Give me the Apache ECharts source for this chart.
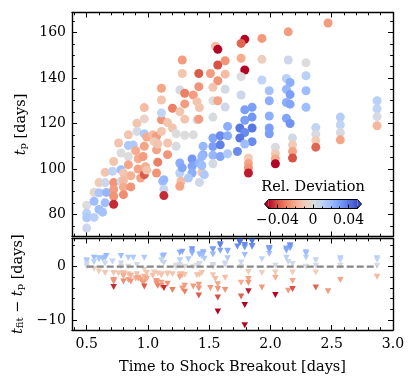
<!DOCTYPE html>
<html>
<head>
<meta charset="utf-8">
<script src="https://cdn.jsdelivr.net/npm/echarts@6/dist/echarts.min.js"></script>
<style>
  html, body { margin: 0; padding: 0; background: #fff; }
  #chart { width: 416px; height: 387px; }
</style>
</head>
<body>
<div id="chart"></div>
<script>
// time to shock breakout [days]
const breakout = [
  0.50, 0.50, 0.50, 0.50, 0.56, 0.56, 0.56, 0.60, 0.60, 0.60,
  0.63, 0.65, 0.65, 0.66, 0.65, 0.72, 0.71, 0.72, 0.72, 0.72,
  0.72, 0.76, 0.78, 0.78, 0.78, 0.80, 0.80, 0.80, 0.80, 0.84,
  0.84, 0.84, 0.84, 0.86, 0.86, 0.88, 0.91, 0.91, 0.90, 0.92,
  0.92, 0.94, 0.97, 0.97, 0.97, 0.99, 0.97, 0.96, 0.98, 0.97,
  0.99, 1.04, 1.07, 1.07, 1.08, 1.07, 1.05, 1.11, 1.11, 1.11,
  1.11, 1.08, 1.12, 1.13, 1.13, 1.13, 1.16, 1.16, 1.16, 1.20,
  1.20, 1.23, 1.23, 1.26, 1.26, 1.28, 1.28, 1.30, 1.30, 1.30,
  1.30, 1.26, 1.26, 1.27, 1.26, 1.28, 1.36, 1.36, 1.36, 1.33,
  1.42, 1.42, 1.45, 1.45, 1.44, 1.37, 1.40, 1.40, 1.37, 1.415,
  1.415, 1.415, 1.42, 1.51, 1.55, 1.57, 1.57, 1.63, 1.57, 1.53,
  1.63, 1.63, 1.53, 1.57, 1.63, 1.53, 1.53, 1.53, 1.53, 1.53,
  1.59, 1.59, 1.59, 1.65, 1.65, 1.65, 1.44, 1.44, 1.46, 1.79,
  1.76, 1.76, 1.79, 1.76, 1.76, 1.79, 1.85, 1.79, 1.85, 1.75,
  1.85, 1.79, 1.75, 1.85, 1.79, 1.73, 1.82, 1.82, 1.82, 1.82,
  1.93, 1.93, 1.93, 1.99, 1.99, 1.99, 1.99, 1.99, 2.04, 2.04,
  2.04, 2.04, 2.145, 2.145, 2.13, 2.16, 2.13, 2.16, 2.13, 2.16,
  2.13, 2.16, 2.18, 2.18, 2.18, 2.18, 2.29, 2.29, 2.29, 2.29,
  2.37, 2.37, 2.37, 2.37, 2.47, 2.57, 2.57, 2.57, 2.57, 2.87,
  2.87, 2.87, 2.87, 1.11
];

// peak time t_p [days]
const tPeak = [
  84.0, 80.5, 78.5, 74.0, 89.7, 85.8, 78.7, 82.2, 94.0, 89.5,
  81.0, 98.5, 94.0, 89.7, 85.1, 103.3, 99.0, 94.0, 91.0, 88.0,
  84.5, 111.4, 107.0, 99.7, 94.6, 98.2, 95.0, 92.0, 88.7, 115.0,
  110.3, 105.5, 101.9, 97.0, 92.1, 110.5, 120.1, 116.5, 108.0, 104.5,
  100.0, 96.0, 127.0, 122.0, 115.5, 114.0, 110.0, 105.5, 101.0, 97.5,
  99.5, 115.0, 114.3, 108.4, 103.0, 98.2, 112.0, 135.5, 130.3, 121.6,
  116.5, 111.0, 94.6, 95.3, 91.0, 88.3, 120.4, 111.4, 106.3, 126.7,
  118.0, 115.5, 110.0, 125.2, 134.7, 147.9, 142.0, 133.3, 128.6, 121.9,
  114.8, 102.6, 98.2, 94.6, 92.4, 100.5, 104.4, 101.2, 98.2, 96.0,
  94.1, 102.6, 110.0, 106.3, 98.5, 132.5, 129.6, 121.6, 115.0, 142.0,
  136.2, 121.9, 127.0, 142.0, 154.0, 152.6, 145.7, 147.6, 138.8, 135.9,
  141.7, 135.0, 130.0, 130.0, 127.2, 122.8, 113.6, 109.9, 106.0, 102.3,
  114.6, 110.6, 105.5, 118.7, 114.6, 106.7, 105.5, 101.5, 97.5, 157.0,
  155.2, 148.7, 143.5, 140.6, 132.5, 126.0, 127.1, 121.4, 122.8, 118.0,
  118.0, 116.0, 113.6, 112.0, 111.0, 107.7, 104.8, 102.4, 100.4, 98.2,
  157.4, 148.2, 139.1, 134.4, 130.0, 123.3, 118.0, 115.5, 109.6, 106.8,
  104.5, 102.3, 160.3, 147.9, 139.8, 138.0, 135.0, 132.7, 129.2, 128.5,
  122.3, 120.0, 113.6, 110.6, 107.7, 104.8, 146.7, 141.0, 134.4, 127.1,
  118.2, 115.3, 112.4, 109.6, 164.2, 122.8, 119.4, 116.0, 112.8, 130.0,
  126.5, 123.0, 119.0, 124.6
];

// relative deviation (colour)
const relDev = [
  0.000, 0.012, 0.015, 0.006, -0.004, 0.020, 0.012, 0.020, -0.010, 0.016,
  0.018, -0.012, 0.006, 0.022, 0.020, -0.012, 0.010, -0.026, -0.024, -0.026,
  -0.045, -0.012, 0.000, 0.020, 0.006, -0.012, -0.015, -0.020, -0.028, -0.012,
  0.015, 0.000, -0.022, -0.018, -0.026, 0.015, -0.012, 0.003, -0.020, -0.020,
  -0.022, -0.022, -0.015, -0.005, 0.015, -0.020, -0.022, -0.024, -0.020, -0.038,
  -0.012, -0.015, -0.024, -0.022, -0.031, -0.026, -0.010, -0.022, -0.012, -0.026,
  -0.012, -0.012, 0.020, 0.022, 0.008, -0.045, -0.012, -0.012, -0.026, -0.031,
  -0.012, 0.000, 0.002, -0.012, 0.002, -0.024, -0.012, -0.031, -0.024, -0.012,
  0.000, 0.025, 0.012, -0.015, -0.022, 0.028, 0.032, 0.028, 0.025, 0.015,
  0.005, 0.022, 0.022, 0.025, -0.012, -0.024, -0.012, 0.002, 0.000, -0.038,
  -0.026, -0.024, -0.012, -0.024, -0.015, -0.055, -0.040, -0.026, -0.026, -0.012,
  -0.015, 0.003, 0.000, -0.022, 0.005, 0.002, 0.028, 0.030, 0.022, 0.003,
  0.035, 0.038, 0.028, 0.025, 0.025, 0.015, 0.022, 0.020, 0.015, -0.070,
  -0.036, -0.020, -0.050, 0.000, 0.006, 0.030, 0.030, 0.030, 0.032, 0.040,
  0.040, 0.035, 0.040, 0.035, 0.020, 0.035, -0.010, -0.022, -0.026, -0.047,
  -0.025, -0.008, 0.010, 0.018, 0.025, 0.025, 0.030, 0.030, 0.002, -0.010,
  -0.020, -0.052, -0.024, 0.006, 0.012, 0.025, 0.022, 0.030, 0.025, 0.028,
  0.028, 0.033, 0.004, -0.010, -0.022, -0.040, 0.000, 0.012, 0.020, 0.020,
  0.010, 0.002, -0.010, -0.036, -0.024, 0.013, 0.010, 0.002, -0.022, 0.012,
  0.010, 0.002, -0.016, 0.010
];

// t_fit - t_p [days]
const residual = [
  0.0, 1.0, 1.2, 0.4, -0.4, 1.7, 0.9, 1.6, -0.9, 1.4,
  1.5, -1.2, 0.6, 2.0, 1.7, -1.2, 1.0, -2.8, -2.5, -2.6,
  -3.8, -1.3, 0.0, 2.0, 0.6, -1.2, -1.4, -1.8, -2.8, -1.4,
  1.7, 0.0, -2.5, -1.7, -2.8, 1.7, -1.4, 0.3, -2.2, -2.1,
  -2.2, -2.4, -1.9, -0.6, 1.7, -2.3, -2.8, -3.0, -2.0, -3.7,
  -1.2, -1.7, -3.2, -2.7, -3.6, -2.9, -1.1, -3.0, -1.6, -3.6,
  -1.4, -1.3, 1.9, 2.1, 0.7, -4.0, -1.4, -1.3, -3.2, -4.4,
  -1.4, 0.0, 0.2, -1.5, 0.3, -4.1, -1.7, -4.7, -3.6, -1.5,
  0.0, 2.6, 1.2, -1.4, -2.0, 2.8, 3.3, 2.8, 2.5, 1.4,
  0.5, 2.3, 2.4, 2.7, -1.2, -3.7, -1.6, 0.2, 0.0, -5.4,
  -4.1, -3.4, -1.5, -4.0, -2.3, -8.4, -5.8, -4.4, -4.2, -1.6,
  -2.1, 0.4, 0.0, -3.3, 0.6, 0.2, 3.2, 3.3, 2.3, 0.3,
  4.0, 4.2, 3.0, 3.0, 2.9, 1.6, 2.3, 2.0, 1.5, -11.0,
  -5.6, -3.0, -7.2, 0.0, 0.8, 3.8, 3.8, 3.6, 3.9, 4.7,
  4.7, 4.1, 4.5, 3.9, 2.2, 3.8, -1.0, -2.3, -3.0, -4.6,
  -3.9, -1.2, 1.4, 2.4, 3.3, 3.1, 3.5, 3.5, 0.2, -1.1,
  -2.1, -5.3, -4.5, 0.9, 1.7, 3.5, 3.0, 4.0, 3.2, 3.6,
  3.4, 4.0, 0.5, -1.1, -2.7, -4.2, 0.0, 1.7, 2.7, 2.5,
  1.2, 0.2, -1.1, -3.9, -4.6, 1.6, 1.2, 0.2, -2.5, 1.6,
  1.3, 0.2, -1.9, 1.2
];

const xTicks = [0.5, 1.0, 1.5, 2.0, 2.5, 3.0];
const tpTicks = [80, 100, 120, 140, 160];
const resTicks = [-10, 0];
const cbTicks = [-0.04, 0, 0.04];
const devRange = [-0.05, 0.05];

// coolwarm, reversed (red = negative)
const coolwarmR = ['#b40426', '#d65244', '#ee8468', '#f7ac8e', '#f2cbb7', '#dddcdc',
                   '#c0d4f5', '#9ebeff', '#7b9ff9', '#5977e3', '#3b4cc0'];

const FONT = 'DejaVu Serif';
const INK = '#000';

function minorTicks(from, to, step, major) {
  const out = [];
  for (let v = from; v <= to + 1e-9; v += step) {
    const r = Math.round(v * 1000) / 1000;
    if (!major.some(m => Math.abs(m - r) < 1e-9)) out.push(r);
  }
  return out;
}
const xMinor = minorTicks(0.4, 2.9, 0.1, xTicks);
const tpMinor = minorTicks(75, 165, 5, tpTicks);
const resMinor = minorTicks(-10, 4, 2, resTicks);
const cbMinor = minorTicks(-0.05, 0.05, 0.01, cbTicks);

const minus = v => (v < 0 ? '\u2212' : '') + Math.abs(v);

const rich = {
  i: { fontFamily: FONT, fontStyle: 'italic', fontSize: 14.5, color: INK, lineHeight: 18, verticalAlign: 'bottom' },
  s: { fontFamily: FONT, fontSize: 10, color: INK, lineHeight: 9, verticalAlign: 'bottom' },
  r: { fontFamily: FONT, fontSize: 14.5, color: INK, lineHeight: 18, verticalAlign: 'bottom' }
};

const P = { left: 72, width: 321 };
const top1 = 12.5, h1 = 224;
const top2 = 238.5, h2 = 91.5;
const cb = { left: 268.5, top: 199.5, width: 89, height: 9 };

function tickStyle(len, values) {
  return { show: true, inside: true, length: len, customValues: values, lineStyle: { color: INK, width: 1 } };
}
const line = { show: true, onZero: false, lineStyle: { color: INK, width: 1.4 } };
const noLine = { show: false, onZero: false };

function makeAxes(grid, min, max, major, minor, pos, labelOpt, nameOpt) {
  const base = { type: 'value', gridIndex: grid, min, max, splitLine: { show: false } };
  return [
    Object.assign({}, base, { position: pos[0], axisLine: line, axisTick: tickStyle(5, major),
      axisLabel: labelOpt || { show: false } }, nameOpt || {}),
    Object.assign({}, base, { position: pos[0], axisLine: noLine, axisTick: tickStyle(2.8, minor), axisLabel: { show: false } }),
    Object.assign({}, base, { position: pos[1], axisLine: line, axisTick: tickStyle(5, major), axisLabel: { show: false } }),
    Object.assign({}, base, { position: pos[1], axisLine: noLine, axisTick: tickStyle(2.8, minor), axisLabel: { show: false } })
  ];
}

const tickFont = { color: INK, fontFamily: FONT, fontSize: 14 };
const xRange = [0.38, 3.0];

const xAxes = [].concat(
  makeAxes(0, xRange[0], xRange[1], xTicks, xMinor, ['bottom', 'top']),
  makeAxes(1, xRange[0], xRange[1], xTicks, xMinor, ['bottom', 'top'],
    Object.assign({ show: true, customValues: xTicks, formatter: v => v.toFixed(1), margin: 7 }, tickFont),
    { name: 'Time to Shock Breakout [days]', nameLocation: 'middle', nameGap: 30,
      nameTextStyle: { color: INK, fontFamily: FONT, fontSize: 14.5 } }),
  [
    { type: 'value', gridIndex: 2, min: devRange[0], max: devRange[1], position: 'bottom', z: 6,
      axisLine: noLine, axisTick: tickStyle(4, cbTicks), splitLine: { show: false },
      axisLabel: Object.assign({ show: true, customValues: cbTicks, margin: 5,
        formatter: v => (v === 0 ? '0' : (v < 0 ? '\u2212' : '') + Math.abs(v).toFixed(2)) }, tickFont) },
    { type: 'value', gridIndex: 2, min: devRange[0], max: devRange[1], position: 'bottom', z: 6,
      axisLine: noLine, axisTick: tickStyle(2, cbMinor), splitLine: { show: false }, axisLabel: { show: false } }
  ]
);

const yAxes = [].concat(
  makeAxes(0, 70.3, 168.8, tpTicks, tpMinor, ['left', 'right'],
    Object.assign({ show: true, customValues: tpTicks, margin: 6 }, tickFont),
    { name: '{i|t}{s|p}{r| [days]}', nameLocation: 'middle', nameRotate: 90, nameGap: 36,
      nameTextStyle: { rich } }),
  makeAxes(1, -11.9, 5.3, resTicks, resMinor, ['left', 'right'],
    Object.assign({ show: true, customValues: resTicks, margin: 6, formatter: minus }, tickFont),
    { name: '{i|t}{s|fit}{r| \u2212 }{i|t}{s|p}{r| [days]}', nameLocation: 'middle', nameRotate: 90, nameGap: 41,
      nameTextStyle: { rich } }),
  [{ type: 'value', gridIndex: 2, min: 0, max: 1, show: false }]
);

const clampDev = v => Math.max(devRange[0], Math.min(devRange[1], v));
const topData = breakout.map((x, i) => [x, tPeak[i], clampDev(relDev[i])]);
const botData = breakout.map((x, i) => [x, residual[i], clampDev(relDev[i])]);
const xMin = Math.min(...breakout), xMax = Math.max(...breakout);

const chart = echarts.init(document.getElementById('chart'), null, { renderer: 'canvas' });
chart.setOption({
  animation: false,
  backgroundColor: '#fff',
  grid: [
    { left: P.left, top: top1, width: P.width, height: h1, containLabel: false, outerBoundsMode: 'none' },
    { left: P.left, top: top2, width: P.width, height: h2, containLabel: false, outerBoundsMode: 'none' },
    { left: cb.left, top: cb.top, width: cb.width, height: cb.height, containLabel: false, outerBoundsMode: 'none' }
  ],
  xAxis: xAxes,
  yAxis: yAxes,
  visualMap: {
    type: 'continuous', show: false, dimension: 2, seriesIndex: [0, 1],
    min: devRange[0], max: devRange[1], inRange: { color: coolwarmR }
  },
  series: [
    { type: 'scatter', xAxisIndex: 0, yAxisIndex: 0, data: topData, symbol: 'circle', symbolSize: 9,
      itemStyle: { opacity: 1 }, z: 2 },
    { type: 'scatter', xAxisIndex: 4, yAxisIndex: 4, data: botData, symbol: 'triangle', symbolRotate: 180,
      symbolSize: [6.5, 6], itemStyle: { opacity: 1 }, z: 2 },
    { type: 'line', xAxisIndex: 4, yAxisIndex: 4, data: [[xMin, 0], [xMax, 0]], symbol: 'none', silent: true,
      lineStyle: { color: '#878787', width: 2.2, type: [7, 3] }, z: 3 }
  ],
  graphic: [
    { type: 'rect', z: 1, shape: { x: cb.left, y: cb.top, width: cb.width, height: cb.height },
      style: { fill: new echarts.graphic.LinearGradient(0, 0, 1, 0,
        coolwarmR.map((c, i) => ({ offset: i / (coolwarmR.length - 1), color: c }))) } },
    { type: 'polygon', z: 1, shape: { points: [[cb.left, cb.top], [cb.left - 4, cb.top + cb.height / 2], [cb.left, cb.top + cb.height]] },
      style: { fill: coolwarmR[0] } },
    { type: 'polygon', z: 1, shape: { points: [[cb.left + cb.width, cb.top], [cb.left + cb.width + 4, cb.top + cb.height / 2], [cb.left + cb.width, cb.top + cb.height]] },
      style: { fill: coolwarmR[coolwarmR.length - 1] } },
    { type: 'polygon', z: 7, shape: { points: [
        [cb.left - 4, cb.top + cb.height / 2], [cb.left, cb.top], [cb.left + cb.width, cb.top],
        [cb.left + cb.width + 4, cb.top + cb.height / 2], [cb.left + cb.width, cb.top + cb.height], [cb.left, cb.top + cb.height]] },
      style: { fill: null, stroke: INK, lineWidth: 1 } },
    { type: 'text', z: 7, x: cb.left + cb.width / 2, y: 187,
      style: { text: 'Rel. Deviation', fill: INK, font: '14.5px "DejaVu Serif"', align: 'center', verticalAlign: 'middle' } }
  ]
});
</script>
</body>
</html>
